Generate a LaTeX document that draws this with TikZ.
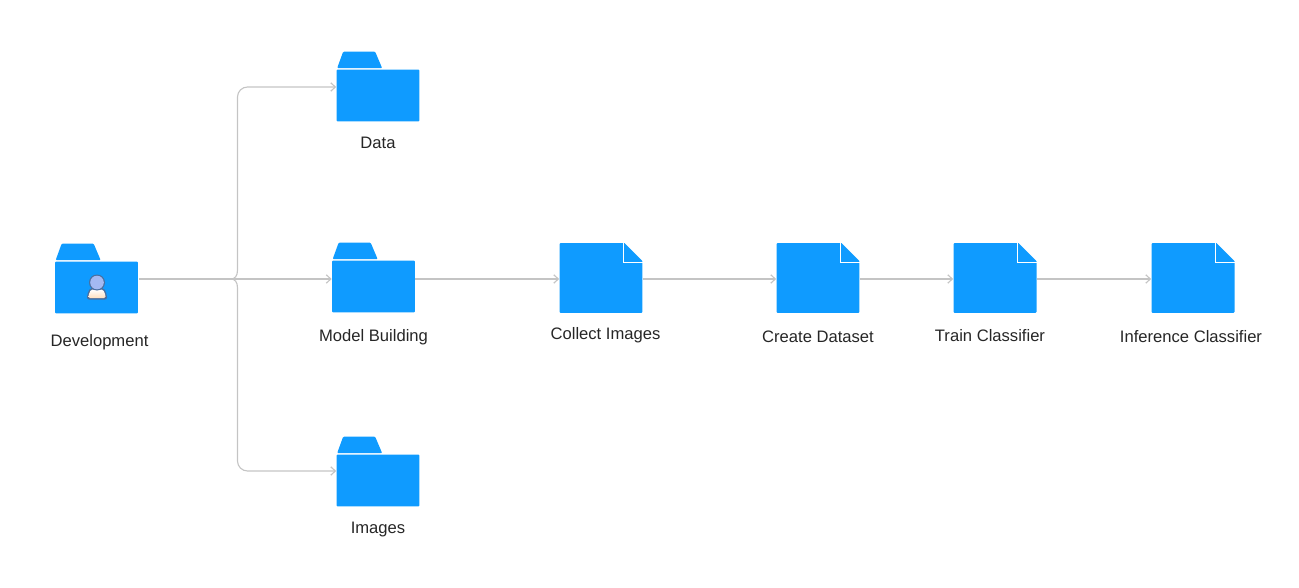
\documentclass[tikz,border=0pt]{standalone}
\usepackage{fontspec}
\setmainfont{Liberation Sans}
\usetikzlibrary{arrows.meta}
\definecolor{folderblue}{HTML}{0F9BFF}
\definecolor{wiregray}{HTML}{C4C4C4}
\definecolor{personline}{HTML}{4A6E9E}
\definecolor{personhead}{HTML}{A3B9F2}
\tikzset{
  folder/.style={rectangle, fill=folderblue, rounded corners=0.02cm, inner sep=0pt, minimum width=1.66cm, minimum height=1.04cm},
  page/.style={rectangle, fill=folderblue, rounded corners=0.02cm, inner sep=0pt, minimum width=1.66cm, minimum height=1.4cm},
  wire/.style={draw=wiregray, line width=0.65pt},
  link/.style={wire, -{Straight Barb[length=2.6pt, width=4.8pt]}},
  caption/.style={font=\fontsize{9.45pt}{11pt}\selectfont, text=black!85, inner sep=0pt, anchor=base},
}
\begin{document}
\begin{tikzpicture}[x=0.02cm, y=-0.02cm]
        \useasboundingbox (0,0) rectangle (1299,588);
        % Define the folders
        \node[folder] (development) at (96.5,287.5) {};
        \node[folder] (data) at (378,95.5) {};
        \node[folder] (model) at (373.5,286.5) {};
        \node[folder] (images) at (378,480.5) {};
        \foreach \name in {development, data, model, images} {
          \fill[folderblue, rounded corners=0.02cm] ([shift={(1,-1)}]\name.north west) -- ([shift={(7,-17.5)}]\name.north west)
            -- ([shift={(39,-17.5)}]\name.north west) -- ([shift={(46,-1)}]\name.north west) -- cycle;
        }

        % Define the pages
        \node[page] (collect) at (601,278) {};
        \node[page] (create) at (818,278) {};
        \node[page] (train) at (995,278) {};
        \node[page] (inference) at (1193,278) {};
        \foreach \name in {collect, create, train, inference} {
          \fill[white] ([shift={(-19.5,-1)}]\name.north east) -- ([shift={(1,-1)}]\name.north east) -- ([shift={(1,19.5)}]\name.north east) -- cycle;
          \draw[white, line width=0.6pt] ([xshift=-0.39cm]\name.north east) |- ([yshift=-0.39cm]\name.north east);
        }

        % Define the person on the folder
        \fill[personline, rounded corners=0.04cm] (87,299.5) -- (87,295) -- (90,288) -- (104,288) -- (107,295) -- (107,299.5) -- cycle;
        \shade[top color=white, bottom color=orange!25!white, rounded corners=0.03cm] (88.5,298) -- (88.5,295) -- (91,289.5) -- (103,289.5) -- (105.5,295) -- (105.5,298) -- cycle;
        \fill[personline] (97,282.5) circle [radius=8];
        \fill[personhead] (97,282.5) circle [radius=6.8];

        % Define the labels
        \node[caption] (developmenttext) at (99.5,346.5) {Development};
        \node[caption] (datatext) at (378,148.7) {Data};
        \node[caption] (modeltext) at (373.5,341.5) {Model Building};
        \node[caption] (imagestext) at (378,533) {Images};
        \node[caption] (collecttext) at (605.5,339) {Collect Images};
        \node[caption] (createtext) at (818,342.5) {Create Dataset};
        \node[caption] (traintext) at (990,341.5) {Train Classifier};
        \node[caption] (inferencetext) at (1191,342.5) {Inference Classifier};

        % Define the edges
        \coordinate (fork) at (231,279);
        \coordinate (upper) at (237.5,270);
        \coordinate (lower) at (237.5,288);
        \draw[wire] ([xshift=0.02cm]development.east |- fork) -- (fork);
        \draw[link] (fork) -- (model.west |- fork);
        \draw[link] (fork) .. controls (235,279) and (237.5,276) .. (upper) [rounded corners=0.2cm] |- ([yshift=0.17cm]data.west);
        \draw[link] (fork) .. controls (235,279) and (237.5,282) .. (lower) [rounded corners=0.2cm] |- ([yshift=0.19cm]images.west);
        \draw[link] (model.east |- fork) -- (collect.west |- fork);
        \draw[link] (collect.east |- fork) -- (create.west |- fork);
        \draw[link] (create.east |- fork) -- (train.west |- fork);
        \draw[link] (train.east |- fork) -- (inference.west |- fork);
    \end{tikzpicture}
\end{document}
